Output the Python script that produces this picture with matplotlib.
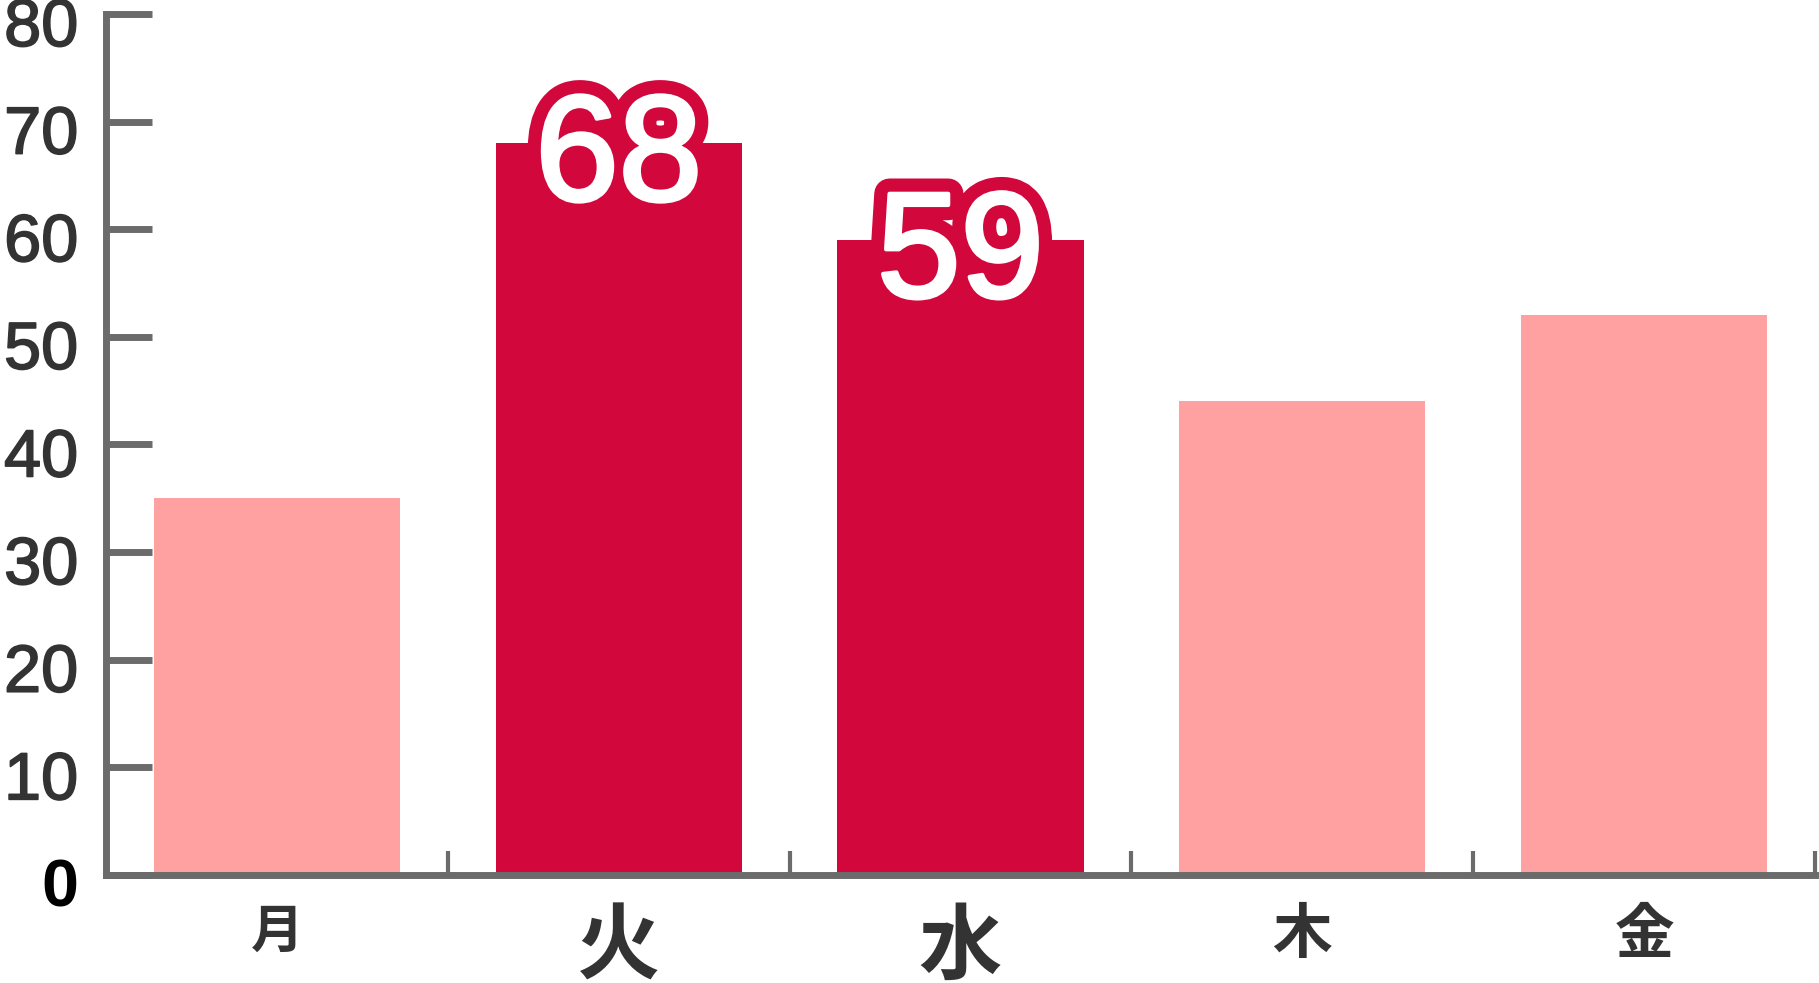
import matplotlib
matplotlib.use("Agg")
import matplotlib.pyplot as plt
import matplotlib.patheffects as pe
import matplotlib.transforms as mtransforms

# データ
days = ["月", "火", "水", "木", "金"]
values = [35, 68, 59, 44, 52]
highlight = [False, True, True, False, False]
label_sizes = [38, 60, 60, 43, 43]
y_ticks = [0, 10, 20, 30, 40, 50, 60, 70, 80]

light = "#ffa0a1"
strong = "#d2073b"
axis_gray = "#6b6b6b"
text_dark = "#333333"

plt.rcParams["font.family"] = ["Liberation Sans", "DejaVu Sans"]

fig = plt.figure(figsize=(18.19, 9.83), dpi=100)
ax = fig.add_axes([0.0583, 0.1099, 0.9395, 0.8759])

x = list(range(len(days)))
colors = [strong if h else light for h in highlight]
ax.bar(x, values, width=0.72, color=colors, zorder=1)

# 強調した棒の値ラベル（棒の上端に重ねる）
lower = mtransforms.offset_copy(ax.transData, fig=fig, x=0, y=-57, units="dots")
for xi, v, h in zip(x, values, highlight):
    if h:
        ax.text(xi, v, str(v), ha="center", va="baseline", fontsize=108,
                color="white", zorder=3, transform=lower,
                path_effects=[pe.Stroke(linewidth=22, foreground=strong),
                              pe.Stroke(linewidth=3, foreground="white"),
                              pe.Normal()])

ax.set_xlim(-0.5, len(days) - 0.5)
ax.set_ylim(0, 80)

for s in ["top", "right"]:
    ax.spines[s].set_visible(False)
for s in ["left", "bottom"]:
    ax.spines[s].set_color(axis_gray)
    ax.spines[s].set_linewidth(5)
    ax.spines[s].set_zorder(2)
    ax.spines[s].set_capstyle("projecting")

# y軸
ax.set_yticks(y_ticks)
ax.set_yticklabels([str(t) for t in y_ticks])
ax.tick_params(axis="y", direction="in", length=33, width=5, color=axis_gray,
               pad=20, labelsize=48, labelcolor=text_dark)
down = mtransforms.ScaledTranslation(0, -8 / 100, fig.dpi_scale_trans)
for lab in ax.get_yticklabels():
    lab.set_transform(lab.get_transform() + down)
    lab.set_path_effects([pe.Stroke(linewidth=1.2, foreground=text_dark), pe.Normal()])
zero = ax.get_yticklabels()[0]
zero.set_color("black")
zero.set_fontweight("bold")
zero.set_path_effects([])

# x軸: 区切りの目盛りとカテゴリ名
ax.set_xticks([i + 0.5 for i in x])
ax.set_xticklabels([""] * len(x))
ax.set_xticks(x, minor=True)
ax.set_xticklabels(days, minor=True, family=["Noto Sans CJK JP", "DejaVu Sans"],
                   color=text_dark, fontweight="bold")
ax.tick_params(axis="x", which="major", direction="in", length=17, width=3,
               color=axis_gray)
ax.tick_params(axis="x", which="minor", length=0, pad=22)
for lab, size in zip(ax.get_xticklabels(minor=True), label_sizes):
    lab.set_fontsize(size)

fig.savefig("out.png", dpi=100, facecolor="white")
